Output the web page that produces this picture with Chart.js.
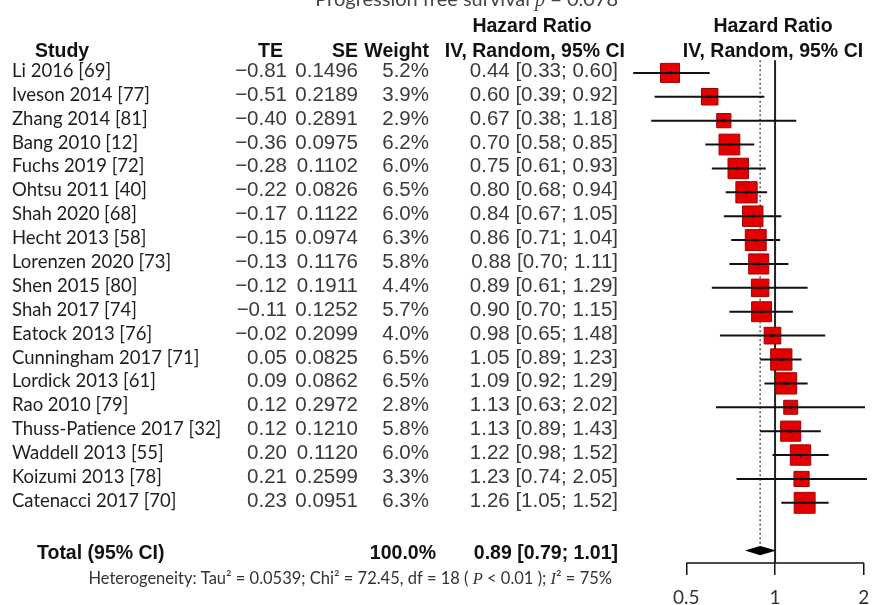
<!DOCTYPE html>
<html>
<head>
<meta charset="utf-8">
<script src="https://cdn.jsdelivr.net/npm/chart.js@4"></script>
<style>
  html, body { margin: 0; padding: 0; background: #fff; }
  canvas { display: block; }
</style>
</head>
<body>
<canvas id="c" width="873" height="605"></canvas>
<script>
// ---------- data ----------
const studies = ["Li 2016 [69]", "Iveson 2014 [77]", "Zhang 2014 [81]", "Bang 2010 [12]", "Fuchs 2019 [72]",
  "Ohtsu 2011 [40]", "Shah 2020 [68]", "Hecht 2013 [58]", "Lorenzen 2020 [73]", "Shen 2015 [80]",
  "Shah 2017 [74]", "Eatock 2013 [76]", "Cunningham 2017 [71]", "Lordick 2013 [61]", "Rao 2010 [79]",
  "Thuss-Patience 2017 [32]", "Waddell 2013 [55]", "Koizumi 2013 [78]", "Catenacci 2017 [70]"];
const te = [-0.81, -0.51, -0.40, -0.36, -0.28, -0.22, -0.17, -0.15, -0.13, -0.12, -0.11, -0.02, 0.05, 0.09, 0.12, 0.12, 0.20, 0.21, 0.23];
const se = [0.1496, 0.2189, 0.2891, 0.0975, 0.1102, 0.0826, 0.1122, 0.0974, 0.1176, 0.1911, 0.1252, 0.2099, 0.0825, 0.0862, 0.2972, 0.1210, 0.1120, 0.2599, 0.0951];
const weights = [5.2, 3.9, 2.9, 6.2, 6.0, 6.5, 6.0, 6.3, 5.8, 4.4, 5.7, 4.0, 6.5, 6.5, 2.8, 5.8, 6.0, 3.3, 6.3];
const hr = [0.44, 0.60, 0.67, 0.70, 0.75, 0.80, 0.84, 0.86, 0.88, 0.89, 0.90, 0.98, 1.05, 1.09, 1.13, 1.13, 1.22, 1.23, 1.26];
const lower = [0.33, 0.39, 0.38, 0.58, 0.61, 0.68, 0.67, 0.71, 0.70, 0.61, 0.70, 0.65, 0.89, 0.92, 0.63, 0.89, 0.98, 0.74, 1.05];
const upper = [0.60, 0.92, 1.18, 0.85, 0.93, 0.94, 1.05, 1.04, 1.11, 1.29, 1.15, 1.48, 1.23, 1.29, 2.02, 1.43, 1.52, 2.05, 1.52];
const pooled = [0.89, 0.79, 1.01];   // estimate, lower, upper
const totalWeight = 100.0;
const xTicks = [0.5, 1, 2];
const xTickLabels = ["0.5", "1", "2"];
const titleText = ["Progression free survival ", "p", " = 0.078"];
const hetText = [["Heterogeneity: Tau\u00B2 = 0.0539; Chi\u00B2 = 72.45, df = 18 ( ", 0], ["P", 1], [" < 0.01 ); ", 0], ["I", 1], ["\u00B2 = 75%", 0]];

// ---------- helpers ----------
const totalRow = studies.length + 1;
const fmtTE = v => (v < 0 ? "\u2212" : "") + Math.abs(v).toFixed(2);
const fmtCI = (m, l, u) => m.toFixed(2) + " [" + l.toFixed(2) + "; " + u.toFixed(2) + "]";

const NUM = '"Liberation Sans", Arial, sans-serif';
const NAME = 'Lato, "Liberation Sans", sans-serif';

function richText(ctx, segs, x, y, align, size, family, italicFamily) {
  const fonts = segs.map(s => s[1] ? `italic ${size}px ${italicFamily}` : `${size}px ${family}`);
  let w = 0;
  segs.forEach((s, i) => { ctx.font = fonts[i]; w += ctx.measureText(s[0]).width; });
  let cx = align === 'right' ? x - w : (align === 'center' ? x - w / 2 : x);
  ctx.textAlign = 'left';
  segs.forEach((s, i) => { ctx.font = fonts[i]; ctx.fillText(s[0], cx, y); cx += ctx.measureText(s[0]).width; });
}

const forestText = {
  id: 'forestText',
  afterDatasetsDraw(chart) {
    const ctx = chart.ctx, xs = chart.scales.x, ys = chart.scales.y;
    ctx.save();
    // pooled diamond
    const yd = ys.getPixelForValue(totalRow);
    const h = 4.6;
    ctx.beginPath();
    ctx.moveTo(xs.getPixelForValue(pooled[1]), yd);
    ctx.lineTo(xs.getPixelForValue(pooled[0]), yd - h);
    ctx.lineTo(xs.getPixelForValue(pooled[2]), yd);
    ctx.lineTo(xs.getPixelForValue(pooled[0]), yd + h);
    ctx.closePath();
    ctx.fillStyle = '#000';
    ctx.fill();
    ctx.restore();
  },
  afterDraw(chart) {
    const ctx = chart.ctx, ys = chart.scales.y;
    ctx.save();
    ctx.textBaseline = 'alphabetic';

    // title (clipped at top like the reference)
    ctx.fillStyle = '#444';
    richText(ctx, titleText.map((t, i) => [t, i === 1 ? 1 : 0]), 618, 6, 'right', 20, NAME, '"Liberation Serif", serif');

    // headers
    ctx.fillStyle = '#111';
    ctx.font = `bold 19.5px ${NUM}`;
    const yH1 = ys.getPixelForValue(-2) + 7;
    const yH2 = ys.getPixelForValue(-1) + 8;
    ctx.textAlign = 'center';
    ctx.fillText('Hazard Ratio', 532, yH1);
    ctx.fillText('Hazard Ratio', 773, yH1);
    ctx.fillText('IV, Random, 95% CI', 773, yH2);
    ctx.textAlign = 'left';
    ctx.fillText('Study', 35, yH2);
    ctx.textAlign = 'right';
    ctx.fillText('TE', 283, yH2);
    ctx.fillText('SE', 358, yH2);
    ctx.fillText('Weight', 429, yH2);
    ctx.fillText('IV, Random, 95% CI', 625, yH2);

    // study rows
    studies.forEach((s, i) => {
      const yy = ys.getPixelForValue(i) + 4;
      ctx.fillStyle = '#1e1e1e';
      ctx.textAlign = 'left';
      ctx.font = `18.5px ${NAME}`;
      ctx.fillText(s, 12, yy);
      ctx.fillStyle = '#3a3a3a';
      ctx.font = `20.5px ${NUM}`;
      ctx.textAlign = 'right';
      ctx.fillText(fmtTE(te[i]), 287, yy);
      ctx.fillText(se[i].toFixed(4), 358, yy);
      ctx.fillText(weights[i].toFixed(1) + '%', 429, yy);
      ctx.fillText(fmtCI(hr[i], lower[i], upper[i]), 618, yy);
    });

    // total row
    const yt = ys.getPixelForValue(totalRow) + 8;
    ctx.fillStyle = '#111';
    ctx.font = `bold 19.5px ${NUM}`;
    ctx.textAlign = 'left';
    ctx.fillText('Total (95% CI)', 37, yt);
    ctx.textAlign = 'right';
    ctx.fillText(totalWeight.toFixed(1) + '%', 436, yt);
    ctx.fillText(fmtCI(pooled[0], pooled[1], pooled[2]), 618, yt);

    // heterogeneity
    ctx.fillStyle = '#333';
    richText(ctx, hetText, 612, yt + 25, 'right', 16.5, NAME, '"Liberation Serif", serif');
    ctx.restore();
  }
};

// ---------- datasets ----------
const whiskers = studies.map((s, i) => ({
  type: 'line', label: s,
  data: [{ x: lower[i], y: i }, { x: upper[i], y: i }],
  borderColor: '#111', borderWidth: 2, pointRadius: 0, order: 1
}));

const datasets = [
  ...whiskers,
  {
    type: 'scatter', label: 'squares',
    data: hr.map((v, i) => ({ x: v, y: i })),
    pointStyle: 'rect',
    pointRadius: weights.map(w => 5.9 * Math.sqrt(w)),
    backgroundColor: '#e50000', borderColor: '#9e0000', borderWidth: 1, order: 2
  },
  {
    type: 'scatter', label: 'centres',
    data: hr.map((v, i) => ({ x: v, y: i })),
    pointStyle: 'circle', pointRadius: 1.6, backgroundColor: '#111', borderWidth: 0, order: 0
  },
  {
    type: 'line', label: 'no effect',
    data: [{ x: 1, y: -0.53 }, { x: 1, y: 20.52 }],
    borderColor: '#222', borderWidth: 2, pointRadius: 0, order: 3, clip: false
  },
  {
    type: 'line', label: 'pooled',
    data: [{ x: pooled[0], y: -0.53 }, { x: pooled[0], y: totalRow - 0.2 }],
    borderColor: '#555', borderWidth: 1.5, borderDash: [2, 2.5], pointRadius: 0, order: 4
  },
  {
    type: 'line', label: 'axis',
    data: [{ x: xTicks[0], y: 20.52 }, { x: xTicks[xTicks.length - 1], y: 20.52 }],
    borderColor: '#111', borderWidth: 1.5, pointRadius: 0, order: 3, clip: false
  }
];

new Chart(document.getElementById('c'), {
  type: 'scatter',
  data: { datasets },
  options: {
    responsive: false,
    devicePixelRatio: 1,
    animation: false,
    layout: { autoPadding: false, padding: { left: 621, right: 3, top: 49, bottom: 0 } },
    plugins: { legend: { display: false }, tooltip: { enabled: false } },
    scales: {
      x: {
        type: 'logarithmic', min: 0.3, max: 2.1, position: 'bottom',
        afterBuildTicks: s => { s.ticks = xTicks.map(v => ({ value: v })); },
        afterFit: s => { s.height = 42; s.paddingLeft = 0; s.paddingRight = 0; },
        ticks: {
          autoSkip: false, maxRotation: 0, padding: 13, color: '#333',
          font: { family: 'Lato, "Liberation Sans", sans-serif', size: 19, lineHeight: 1 },
          callback: v => xTickLabels[xTicks.indexOf(v)]
        },
        grid: { drawOnChartArea: false, drawTicks: true, tickLength: 12, color: '#111', lineWidth: 1.5 },
        border: { display: false }
      },
      y: { type: 'linear', min: -1, max: 20.52, reverse: true, display: false }
    }
  },
  plugins: [forestText]
});
</script>
</body>
</html>
